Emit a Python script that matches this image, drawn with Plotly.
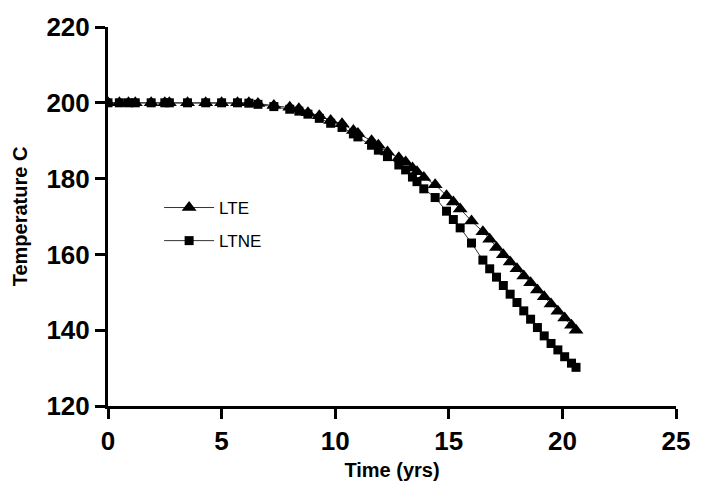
import plotly.graph_objects as go

# Time (yrs)
time_yrs = [0, 0.5, 0.9, 1.2, 1.9, 2.5, 2.7, 3.5, 4.3, 5.0, 5.7, 6.2, 6.6, 7.3, 8.0,
            8.4, 8.8, 9.3, 9.8, 10.3, 10.8, 11.0, 11.6, 11.9, 12.3, 12.8, 13.1, 13.4,
            13.6, 13.9, 14.4, 14.9, 15.2, 15.5, 16.0, 16.5, 16.8, 17.1, 17.4, 17.7,
            18.0, 18.3, 18.6, 18.9, 19.2, 19.5, 19.8, 20.1, 20.4, 20.6]

# Temperature C
lte = [200, 200, 200, 200, 200, 200, 200, 200, 200, 200, 200, 200, 199.8, 199.3, 198.8,
       198.4, 197.4, 196.6, 195.3, 194.5, 192.7, 191.9, 190.0, 188.8, 187.0, 185.5, 184.4, 182.8,
       181.8, 180.3, 178.4, 175.5, 173.8, 172.0, 168.8, 166.0, 164.0, 161.8, 159.9, 158.0,
       156.2, 154.3, 152.5, 150.6, 148.8, 146.9, 145.0, 143.2, 141.3, 140.0]

ltne = [200, 200, 200, 200, 200, 200, 200, 200, 200, 200, 200, 199.9, 199.6, 199.0, 198.3,
        197.8, 197.0, 195.9, 194.6, 193.5, 191.8, 191.0, 188.8, 187.5, 185.8, 183.6, 182.3, 180.4,
        179.2, 177.3, 175.0, 171.4, 169.2, 167.0, 163.0, 158.5, 156.2, 154.0, 151.8, 149.5,
        147.3, 145.1, 142.9, 140.7, 138.5, 136.5, 134.8, 133.0, 131.3, 130.2]

x_ticks = [0, 5, 10, 15, 20, 25]
y_ticks = [120, 140, 160, 180, 200, 220]

fig = go.Figure()
fig.add_trace(go.Scatter(
    x=time_yrs, y=ltne, name="LTNE", mode="lines+markers", legendgroup="b", legendrank=2,
    line=dict(color="#333333", width=1),
    marker=dict(symbol="square", size=9, color="black"),
))
fig.add_trace(go.Scatter(
    x=time_yrs, y=lte, name="LTE", mode="lines+markers", legendgroup="a", legendrank=1,
    line=dict(color="#333333", width=1),
    marker=dict(symbol="triangle-up", size=13, color="black"),
))

axis_font = dict(family="Liberation Sans, Arial", size=26, color="black", weight="bold")
title_font = dict(family="Liberation Sans, Arial", size=20, color="black", weight="bold")

fig.update_layout(
    width=702, height=490,
    margin=dict(l=108, r=17, t=25, b=80),
    paper_bgcolor="white", plot_bgcolor="white",
    showlegend=True,
    legend=dict(
        x=0.09, y=0.57, xanchor="left", yanchor="top",
        font=dict(family="Liberation Sans, Arial", size=17, color="black"),
        bgcolor="rgba(0,0,0,0)", traceorder="grouped", tracegroupgap=8,
        itemwidth=50,
    ),
    xaxis=dict(
        range=[0, 25], tickvals=x_ticks, showgrid=False, zeroline=False,
        showline=True, linecolor="black", linewidth=3,
        ticks="outside", ticklen=10, tickwidth=3, tickcolor="black",
        tickfont=axis_font,
        title=dict(text="Time (yrs)", font=title_font, standoff=8),
    ),
    yaxis=dict(
        range=[120, 220], tickvals=y_ticks, showgrid=False, zeroline=False,
        showline=True, linecolor="black", linewidth=3,
        ticks="outside", ticklen=10, tickwidth=3, tickcolor="black",
        tickfont=axis_font,
        title=dict(text="Temperature C", font=title_font, standoff=14),
    ),
)

fig.write_html("out.html")
